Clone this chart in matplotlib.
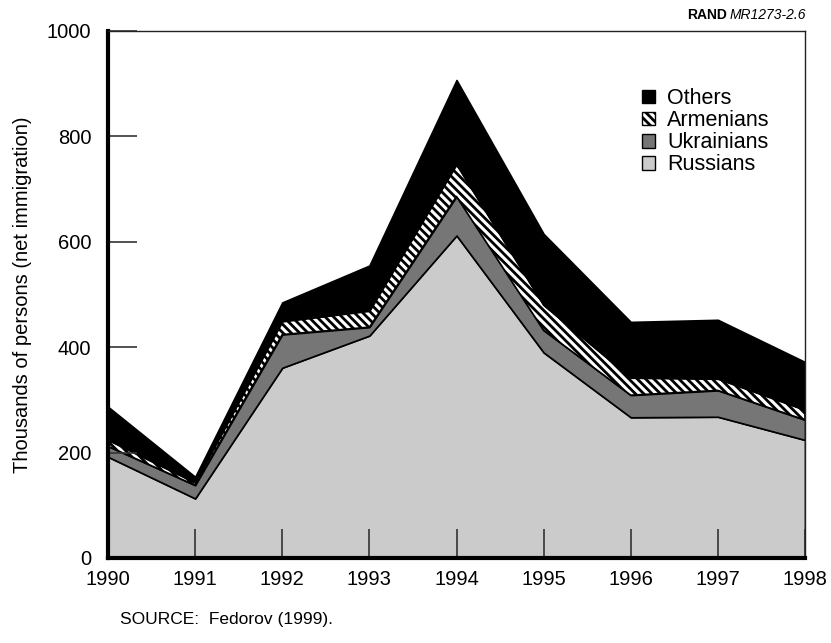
import matplotlib

matplotlib.use('Agg')
import matplotlib.pyplot as plt
from matplotlib.patches import Patch

plt.rcParams['font.family'] = ['Liberation Sans', 'DejaVu Sans']
plt.rcParams['hatch.linewidth'] = 2.0

# net immigration, thousands of persons
years = [1990, 1991, 1992, 1993, 1994, 1995, 1996, 1997, 1998]
russians = [192, 113, 361, 422, 612, 390, 267, 268, 224]
ukrainians = [20, 25, 63, 16, 74, 42, 42, 50, 38]
armenians = [12, 5, 25, 31, 61, 48, 33, 22, 19]
others = [63, 11, 36, 86, 160, 135, 106, 112, 91]

series = ['Russians', 'Ukrainians', 'Armenians', 'Others']
fills = {'Russians': '#cbcbcb', 'Ukrainians': '#767676',
         'Armenians': 'white', 'Others': 'black'}
hatches = {'Armenians': '\\\\\\\\'}

fig = plt.figure(figsize=(8.31, 6.43), dpi=100)
ax = fig.add_axes([0.1300, 0.1322, 0.8387, 0.8196])

polys = ax.stackplot(
  years, russians, ukrainians, armenians, others,
  colors=[fills[s] for s in series], edgecolor='black', linewidth=1.2,
)
for p, s in zip(polys, series):
  if s in hatches:
    p.set_hatch(hatches[s])

ax.set_xlim(1990, 1998)
ax.set_ylim(0, 1000)
ax.set_xticks(years)
ax.set_yticks(range(0, 1001, 200))
ax.tick_params(direction='in', length=21, width=1.2, labelsize=14.5,
               color='#333333')
ax.tick_params(axis='y', pad=12)
ax.tick_params(axis='x', pad=9)
ax.set_ylabel('Thousands of persons (net immigration)', fontsize=14.5,
              labelpad=11)

for side in ('left', 'bottom'):
  ax.spines[side].set_linewidth(3)
for side in ('top', 'right'):
  ax.spines[side].set_linewidth(1)
  ax.spines[side].set_color('#222222')

handles = [Patch(facecolor=fills[s], edgecolor='black', hatch=hatches.get(s),
                 label=s) for s in reversed(series)]
leg = ax.legend(handles=handles, loc='upper left', bbox_to_anchor=(0.751, 0.912),
                frameon=False, fontsize=15.5, handlelength=0.6,
                handleheight=0.6, handletextpad=0.55, labelspacing=0.05,
                borderpad=0)

fig.text(0.145, 0.03, 'SOURCE:  Fedorov (1999).', fontsize=12.5)
fig.text(0.875, 0.977, 'RAND', fontsize=10, fontweight='bold', ha='right',
         va='center')
fig.text(0.878, 0.977, 'MR1273-2.6', fontsize=10, style='italic', ha='left',
         va='center')

fig.savefig('out.png', dpi=100)
